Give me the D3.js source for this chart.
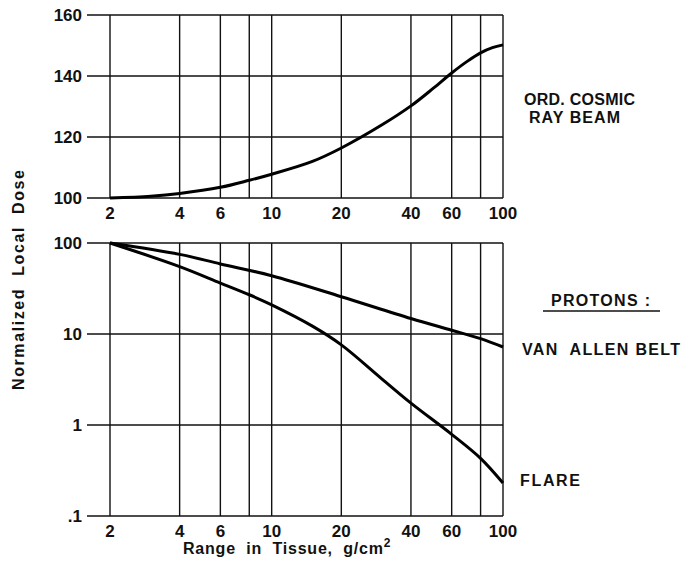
<!DOCTYPE html>
<html>
<head>
<meta charset="utf-8">
<script src="https://cdn.jsdelivr.net/npm/d3@7"></script>
<style>
  body { margin: 0; background: #fff; }
  text { font-family: "Liberation Sans", Arial, sans-serif; font-weight: bold; fill: #111; white-space: pre; }
</style>
</head>
<body>
<div id="chart"></div>
<script>
// ---- data ----
var gridX = [2, 4, 6, 8, 10, 20, 40, 60, 80, 100];
var tickX = [2, 4, 6, 10, 20, 40, 60, 100];
var tickTop = [100, 120, 140, 160];
var tickBottom = [0.1, 1, 10, 100];
var tickBottomLabels = [".1", "1", "10", "100"];

// ordinary cosmic ray beam (linear scale)
var cosmicX = [2, 3, 4, 6, 8, 10, 15, 20, 30, 40, 50, 60, 70, 80, 90, 100];
var cosmicY = [100, 100.6, 101.5, 103.5, 105.8, 107.8, 112, 116.4, 124, 130.2, 136, 141, 144.8, 147.6, 149.3, 150.2];

// protons (log scale)
var vanAllenX = [2, 4, 6, 10, 20, 40, 60, 80, 100];
var vanAllenY = [100, 75, 58.9, 43.7, 25.7, 14.8, 11, 8.9, 7.2];
var flareX = [2, 4, 6, 8, 10, 15, 20, 30, 40, 60, 80, 100];
var flareY = [100, 55, 36.3, 27, 20.9, 12.2, 7.6, 3.2, 1.74, 0.79, 0.43, 0.23];

var W = 682, H = 569;
var leftEdge = 87, rightEdge = 503;

var svg = d3.select("#chart").append("svg")
    .attr("width", W)
    .attr("height", H);

var x = d3.scaleLog().domain([2, 100]).range([110, 503]);
var yTop = d3.scaleLinear().domain([100, 160]).range([198, 15]);
var yBot = d3.scaleLog().domain([0.1, 100]).range([516, 243]);

var gridStroke = "#111";

function drawPanel(y, yTicks, yLabels, y0, y1) {
    var g = svg.append("g");
    // horizontal grid lines (extend left as tick stubs)
    g.selectAll("line.h").data(yTicks).enter().append("line")
        .attr("x1", leftEdge).attr("x2", rightEdge)
        .attr("y1", function(d) { return y(d); })
        .attr("y2", function(d) { return y(d); })
        .attr("stroke", gridStroke).attr("stroke-width", 1.4);
    // vertical grid lines
    g.selectAll("line.v").data(gridX).enter().append("line")
        .attr("x1", function(d) { return x(d); })
        .attr("x2", function(d) { return x(d); })
        .attr("y1", y(y1)).attr("y2", y(y0))
        .attr("stroke", gridStroke).attr("stroke-width", 1.4);
    // y labels
    g.selectAll("text.yl").data(yTicks).enter().append("text")
        .attr("x", 82)
        .attr("y", function(d) { return y(d) + 6; })
        .attr("text-anchor", "end")
        .style("font-size", "17px")
        .text(function(d, i) { return yLabels[i]; });
    return g;
}

drawPanel(yTop, tickTop, tickTop.map(String), 100, 160);
drawPanel(yBot, tickBottom, tickBottomLabels, 0.1, 100);

// x labels for both panels
[219, 537].forEach(function(base) {
    svg.append("g").selectAll("text").data(tickX).enter().append("text")
        .attr("x", function(d) { return x(d); })
        .attr("y", base)
        .attr("text-anchor", "middle")
        .style("font-size", "17px")
        .text(function(d) { return d; });
});

// curves
function curve(xs, ys, y) {
    var line = d3.line()
        .x(function(d, i) { return x(xs[i]); })
        .y(function(d) { return y(d); })
        .curve(d3.curveCatmullRom.alpha(0.5));
    svg.append("path")
        .attr("d", line(ys))
        .attr("fill", "none")
        .attr("stroke", "#000")
        .attr("stroke-width", 3);
}
curve(cosmicX, cosmicY, yTop);
curve(vanAllenX, vanAllenY, yBot);
curve(flareX, flareY, yBot);

// axis titles
svg.append("text")
    .attr("transform", "translate(24,280) rotate(-90)")
    .attr("text-anchor", "middle")
    .attr("textLength", 220)
    .attr("lengthAdjust", "spacing")
    .style("font-size", "16px")
    .text("Normalized  Local  Dose");

var xt = svg.append("text")
    .attr("x", 183).attr("y", 554)
    .style("font-size", "16px");
xt.append("tspan").attr("textLength", 200).attr("lengthAdjust", "spacing")
    .text("Range  in  Tissue,  g/cm");
xt.append("tspan").attr("dy", -7).style("font-size", "12px").text("2");

// series labels
function label(txt, lx, ly, len) {
    svg.append("text").attr("x", lx).attr("y", ly)
        .attr("textLength", len).attr("lengthAdjust", "spacing")
        .style("font-size", "16px")
        .text(txt);
}
label("ORD. COSMIC", 524, 105, 111);
label("RAY BEAM", 529, 123, 91);
label("PROTONS :", 551, 306, 99);
svg.append("line")
    .attr("x1", 543).attr("x2", 660)
    .attr("y1", 311).attr("y2", 311)
    .attr("stroke", "#111").attr("stroke-width", 1.5);
label("VAN  ALLEN BELT", 522, 355, 158);
label("FLARE", 520, 486, 60);
</script>
</body>
</html>
